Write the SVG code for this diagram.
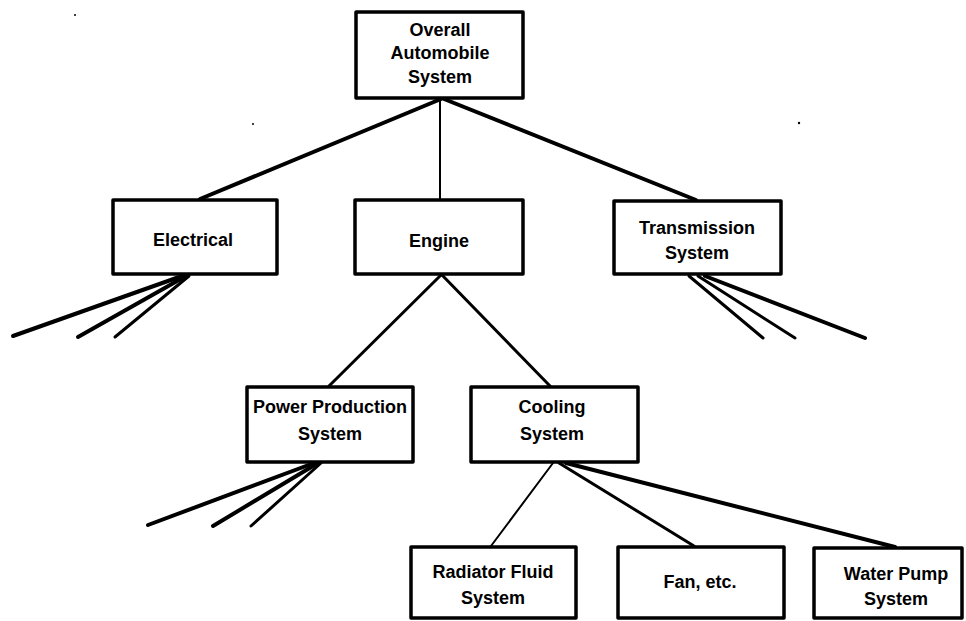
<svg xmlns="http://www.w3.org/2000/svg" width="966" height="621" viewBox="0 0 966 621">
  <style>
    .box { fill: #fff; stroke: #000; stroke-width: 3.5; stroke-linejoin: round; }
    .lbl { font-family: "Liberation Sans", Arial, sans-serif; font-weight: bold; font-size: 18px; fill: #000; text-anchor: middle; }
    .wire { stroke: #000; fill: none; stroke-linecap: round; }
    .w2 { stroke-width: 2; }
    .w3 { stroke-width: 3; }
    .w4 { stroke-width: 4; }
  </style>
  <rect width="966" height="621" fill="#fff"/>

  <!-- connectors -->
  <g id="connectors">
    <!-- top level to first tier -->
    <line class="wire w4" x1="441" y1="99" x2="200" y2="199"/>
    <line class="wire w2" x1="440" y1="99" x2="440" y2="199"/>
    <line class="wire w4" x1="444" y1="99" x2="696" y2="200"/>
    <!-- engine to its parts -->
    <line class="wire w3" x1="441" y1="275" x2="329" y2="386"/>
    <line class="wire w3" x1="442" y1="275" x2="550" y2="386"/>
    <!-- electrical branches -->
    <line class="wire w4" x1="182" y1="276" x2="13" y2="336"/>
    <line class="wire w4" x1="186" y1="276" x2="78" y2="337"/>
    <line class="wire w3" x1="189" y1="276" x2="115" y2="337"/>
    <!-- transmission branches -->
    <line class="wire w3" x1="689" y1="276" x2="763" y2="338"/>
    <line class="wire w3" x1="698" y1="276" x2="795" y2="338"/>
    <line class="wire w4" x1="705" y1="276" x2="865" y2="338"/>
    <!-- power production branches -->
    <line class="wire w4" x1="314" y1="463" x2="148" y2="525"/>
    <line class="wire w4" x1="318" y1="463" x2="213" y2="526"/>
    <line class="wire w3" x1="321" y1="463" x2="251" y2="526"/>
    <!-- cooling system to its parts -->
    <line class="wire w2" x1="553" y1="463" x2="491" y2="546"/>
    <line class="wire w3" x1="559" y1="463" x2="694" y2="546"/>
    <line class="wire w4" x1="566" y1="463" x2="895" y2="547"/>
  </g>

  <g id="overall">
    <rect class="box" x="356" y="12" width="167" height="86"/>
    <text class="lbl" x="440" y="36">Overall</text>
    <text class="lbl" x="440" y="59">Automobile</text>
    <text class="lbl" x="440" y="83">System</text>
  </g>

  <g id="electrical">
    <rect class="box" x="113" y="200" width="164" height="74"/>
    <text class="lbl" x="193" y="246">Electrical</text>
  </g>

  <g id="engine">
    <rect class="box" x="355" y="200" width="168" height="74"/>
    <text class="lbl" x="439" y="247">Engine</text>
  </g>

  <g id="transmission">
    <rect class="box" x="614" y="201" width="167" height="73"/>
    <text class="lbl" x="697" y="234">Transmission</text>
    <text class="lbl" x="697" y="259">System</text>
  </g>

  <g id="power-production">
    <rect class="box" x="247" y="387" width="166" height="75"/>
    <text class="lbl" x="330" y="413">Power Production</text>
    <text class="lbl" x="330" y="440">System</text>
  </g>

  <g id="cooling">
    <rect class="box" x="471" y="387" width="167" height="75"/>
    <text class="lbl" x="552" y="413">Cooling</text>
    <text class="lbl" x="552" y="440">System</text>
  </g>

  <g id="radiator">
    <rect class="box" x="411" y="547" width="165" height="71"/>
    <text class="lbl" x="493" y="578">Radiator Fluid</text>
    <text class="lbl" x="493" y="604">System</text>
  </g>

  <g id="fan">
    <rect class="box" x="618" y="547" width="166" height="71"/>
    <text class="lbl" x="700" y="588">Fan, etc.</text>
  </g>

  <g id="water-pump">
    <rect class="box" x="814" y="548" width="148" height="70"/>
    <text class="lbl" x="896" y="580">Water Pump</text>
    <text class="lbl" x="896" y="605">System</text>
  </g>

  <!-- stray specks -->
  <circle cx="75" cy="15" r="1" fill="#000"/>
  <circle cx="253" cy="124" r="1" fill="#000"/>
  <circle cx="799" cy="123" r="1.2" fill="#000"/>
</svg>
